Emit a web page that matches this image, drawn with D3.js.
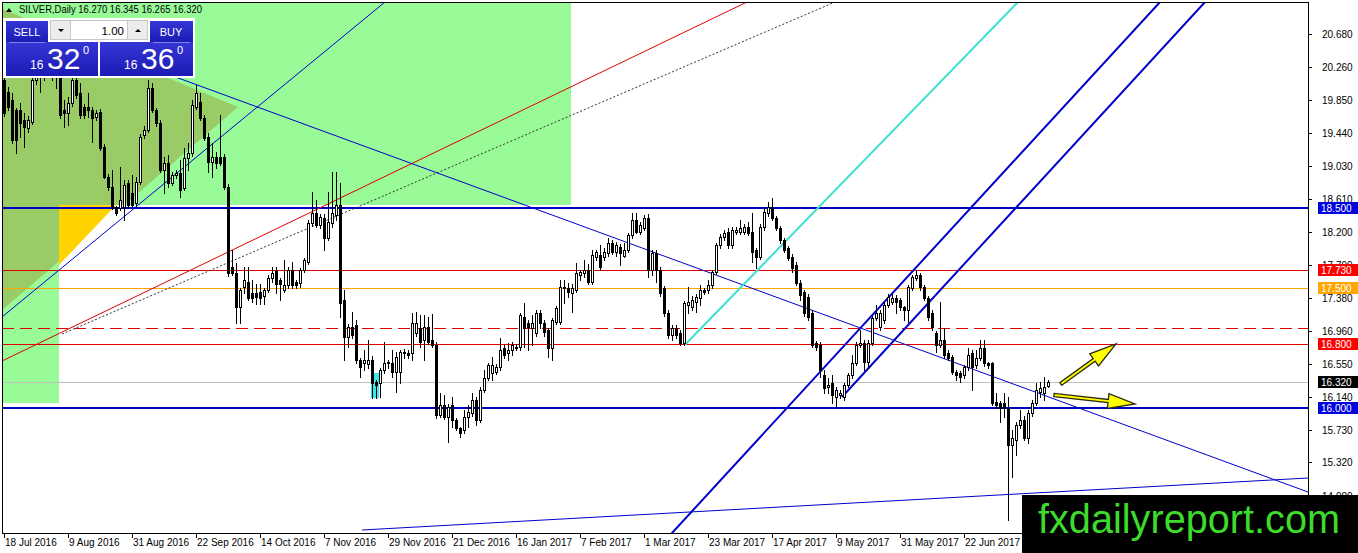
<!DOCTYPE html>
<html><head><meta charset="utf-8">
<script src="https://cdn.jsdelivr.net/npm/d3@7"></script>
<style>
body{margin:0;background:#fff;}
svg{display:block;font-family:"Liberation Sans",Arial,sans-serif;}
</style>
</head><body>
<svg id="c" width="1358" height="553"></svg>
<script>
// ---------------- DATA ----------------
const opens=[20.10,19.95,19.85,19.725,19.725,19.60,19.50,19.575,20.10,20.35,20.20,20.40,20.30,20.20,20.15,19.725,19.69,19.81,20.10,19.94,19.76,19.76,19.725,19.64,19.70,19.26,18.89,18.76,18.51,18.50,18.51,18.81,18.69,18.56,18.825,19.41,19.475,20.00,19.725,19.56,18.975,19.06,18.81,18.91,18.94,18.75,19.125,19.19,19.76,19.825,19.625,19.39,19.075,19.14,19.14,19.14,18.76,17.76,17.69,17.26,17.51,17.575,17.44,17.44,17.45,17.40,17.475,17.625,17.71,17.60,17.475,17.54,17.725,17.575,17.56,17.725,17.825,18.31,18.44,18.29,18.375,18.125,18.31,18.41,18.54,17.35,16.89,17.01,17.04,16.60,16.56,16.55,16.60,16.325,16.31,16.475,16.56,16.56,16.45,16.45,16.70,16.69,16.69,16.94,17.00,16.85,17.01,16.85,16.79,15.91,16.04,15.89,16.04,15.85,15.75,15.725,15.89,15.94,16.10,15.85,16.225,16.375,16.44,16.45,16.51,16.75,16.69,16.725,16.75,16.76,17.14,17.06,17.00,16.94,17.19,17.06,16.975,16.75,17.075,17.075,17.50,17.50,17.44,17.475,17.66,17.69,17.725,17.575,17.89,17.91,17.89,17.94,18.06,17.95,18.01,17.90,17.975,18.16,18.35,18.20,18.25,18.375,17.725,17.94,17.725,17.50,17.19,16.91,17.00,16.94,16.81,17.29,17.26,17.325,17.375,17.475,17.475,17.54,17.70,18.04,18.14,18.20,18.04,18.20,18.20,18.20,18.26,18.20,17.975,17.89,18.26,18.44,18.51,18.375,18.25,18.10,18.00,17.89,17.79,17.56,17.45,17.39,17.19,16.81,16.79,16.41,16.26,16.31,16.14,16.16,16.14,16.29,16.41,16.56,16.79,16.81,16.575,16.81,17.125,17.01,17.10,17.29,17.325,17.375,17.35,17.26,17.225,17.50,17.625,17.66,17.51,17.375,17.19,16.94,16.79,16.85,16.69,16.64,16.45,16.44,16.41,16.51,16.69,16.54,16.625,16.75,16.56,16.56,16.075,16.06,16.06,16.00,15.54,15.60,15.79,15.85,15.625,15.94,16.06,16.20,16.19,16.27];
const highs=[20.15,20.01,19.94,19.75,19.81,19.69,19.65,20.20,20.45,20.45,20.50,20.55,20.45,20.35,20.20,19.85,19.89,20.15,20.15,20.06,19.80,19.94,19.76,19.72,19.74,19.30,18.92,18.975,18.52,19.01,18.85,18.85,18.91,18.89,19.42,19.52,20.10,20.06,19.75,19.60,19.14,19.16,18.95,18.98,19.10,19.25,19.31,19.85,20.04,19.94,19.66,19.44,19.31,19.20,19.66,19.18,18.80,17.975,17.81,17.50,17.76,17.76,17.60,17.55,17.55,17.50,17.66,17.76,17.76,17.62,17.85,17.76,17.825,17.60,17.75,17.88,18.35,18.70,18.60,18.42,18.42,18.70,18.95,18.95,18.81,17.475,17.05,17.20,17.10,16.62,16.72,16.85,16.65,16.35,16.50,16.83,16.60,16.725,16.70,16.725,16.74,16.72,17.19,17.20,17.16,17.16,17.14,17.18,16.82,16.19,16.16,16.05,16.14,15.88,15.76,15.975,16.04,16.19,16.14,16.26,16.475,16.56,16.64,16.55,16.875,16.79,16.81,16.82,16.80,17.19,17.31,17.10,17.16,17.22,17.22,17.10,17.00,17.12,17.28,17.60,17.60,17.56,17.55,17.81,17.73,17.85,17.80,17.975,17.98,18.04,18.00,18.125,18.10,18.08,18.05,18.06,18.19,18.44,18.44,18.32,18.41,18.42,17.98,17.98,17.76,17.52,17.22,17.04,17.04,16.97,17.34,17.51,17.40,17.42,17.54,17.50,17.60,17.725,18.06,18.18,18.22,18.25,18.26,18.26,18.35,18.30,18.325,18.44,18.00,18.30,18.50,18.575,18.625,18.40,18.28,18.12,18.03,17.92,17.825,17.60,17.48,17.42,17.22,16.84,16.82,16.475,16.375,16.41,16.26,16.22,16.31,16.44,16.66,16.82,16.975,16.85,16.85,17.15,17.29,17.22,17.32,17.42,17.44,17.41,17.38,17.28,17.54,17.66,17.725,17.69,17.54,17.40,17.22,16.96,17.325,17.00,16.72,16.66,16.48,16.46,16.54,16.75,16.72,16.725,16.85,16.85,16.58,16.58,16.19,16.09,16.19,16.14,15.725,15.82,15.975,15.90,15.97,16.10,16.31,16.325,16.39,16.345];
const lows=[19.65,19.725,19.31,19.19,19.39,19.26,19.45,19.55,20.05,19.95,20.10,20.25,20.10,20.00,19.62,19.51,19.54,19.78,19.88,19.625,19.62,19.64,19.325,19.60,19.225,18.875,18.72,18.49,18.41,18.475,18.35,18.50,18.51,18.52,18.80,19.38,19.45,19.70,19.52,18.95,18.69,18.76,18.79,18.88,18.64,18.725,18.975,19.15,19.74,19.60,19.35,18.95,18.89,19.00,19.04,18.74,17.65,17.66,17.06,17.06,17.44,17.35,17.33,17.30,17.30,17.30,17.45,17.58,17.44,17.35,17.45,17.50,17.50,17.50,17.51,17.70,17.80,18.28,18.26,18.25,17.975,18.10,18.26,18.35,17.14,16.60,16.76,16.88,16.56,16.39,16.475,16.50,16.12,16.12,16.14,16.44,16.50,16.39,16.20,16.31,16.62,16.62,16.60,16.90,16.76,16.60,16.80,16.76,15.88,15.885,15.86,15.575,15.76,15.72,15.64,15.69,15.76,15.90,15.79,15.82,16.20,16.35,16.35,16.42,16.48,16.63,16.60,16.66,16.72,16.73,16.76,16.72,16.79,16.90,17.00,16.90,16.64,16.60,17.05,17.05,17.31,17.39,17.20,17.45,17.60,17.64,17.55,17.55,17.85,17.725,17.85,17.90,17.92,17.90,17.79,17.89,17.95,18.13,18.19,18.17,18.22,17.64,17.66,17.575,17.40,17.15,16.88,16.85,16.88,16.79,16.79,17.19,17.22,17.20,17.29,17.42,17.44,17.50,17.68,18.00,18.10,18.00,18.00,18.18,18.17,18.17,18.16,17.825,17.75,17.86,18.23,18.40,18.35,18.22,18.06,17.95,17.85,17.70,17.54,17.35,17.15,17.10,16.76,16.73,16.39,16.19,16.19,16.06,16.01,16.12,16.10,16.26,16.38,16.54,16.76,16.475,16.50,16.79,17.10,16.975,17.06,17.26,17.30,17.19,17.23,17.10,17.075,17.48,17.60,17.48,17.35,17.10,16.98,16.70,16.76,16.63,16.60,16.42,16.35,16.33,16.38,16.48,16.225,16.50,16.60,16.53,16.50,16.04,16.00,15.825,15.89,14.60,15.14,15.41,15.75,15.60,15.56,15.90,16.04,16.14,16.10,16.265];
const closes=[19.69,19.76,19.35,19.35,19.56,19.51,19.60,20.10,20.35,20.20,20.40,20.30,20.20,20.15,19.66,19.69,19.81,20.10,19.91,19.66,19.66,19.725,19.625,19.69,19.25,18.89,18.76,18.51,18.44,18.60,18.79,18.54,18.54,18.825,19.39,19.475,20.00,19.725,19.56,18.975,19.06,18.81,18.91,18.94,18.725,19.125,19.19,19.79,19.94,19.625,19.375,19.075,19.14,19.06,19.06,18.76,17.69,17.69,17.26,17.475,17.60,17.375,17.375,17.39,17.375,17.475,17.625,17.69,17.55,17.55,17.54,17.725,17.54,17.54,17.725,17.85,18.31,18.44,18.29,18.39,18.125,18.325,18.44,18.54,17.31,16.89,17.01,16.91,16.60,16.51,16.60,16.60,16.31,16.29,16.475,16.56,16.575,16.45,16.64,16.70,16.69,16.66,17.06,17.06,16.825,17.01,16.825,16.79,15.91,16.04,15.89,16.01,15.85,15.75,15.69,15.89,15.95,16.10,15.85,16.225,16.375,16.54,16.54,16.51,16.725,16.66,16.725,16.79,16.76,17.16,17.00,17.01,17.06,17.19,17.06,16.95,16.75,17.10,17.25,17.51,17.51,17.45,17.50,17.69,17.70,17.725,17.575,17.91,17.95,17.76,17.95,18.06,17.95,18.04,17.94,17.975,18.16,18.35,18.20,18.29,18.375,17.725,17.94,17.725,17.44,17.19,16.91,17.00,16.91,16.81,17.31,17.325,17.35,17.39,17.475,17.45,17.54,17.70,18.04,18.14,18.19,18.04,18.225,18.225,18.25,18.26,18.19,17.95,17.89,18.26,18.45,18.51,18.375,18.25,18.10,17.975,17.875,17.75,17.56,17.41,17.19,17.14,16.79,16.76,16.475,16.25,16.29,16.16,16.225,16.19,16.29,16.41,16.56,16.79,16.81,16.575,16.81,17.125,17.19,17.19,17.29,17.39,17.375,17.325,17.26,17.225,17.51,17.64,17.66,17.51,17.375,17.14,17.01,16.79,16.85,16.66,16.625,16.45,16.41,16.39,16.51,16.66,16.51,16.625,16.75,16.56,16.54,16.06,16.04,16.00,16.00,15.54,15.625,15.79,15.85,15.625,15.94,16.06,16.225,16.25,16.26,16.32];

const dateLabels=["18 Jul 2016","9 Aug 2016","31 Aug 2016","22 Sep 2016","14 Oct 2016","7 Nov 2016","29 Nov 2016","21 Dec 2016","16 Jan 2017","7 Feb 2017","1 Mar 2017","23 Mar 2017","17 Apr 2017","9 May 2017","31 May 2017","22 Jun 2017"];
const dateLabelBars=[0,16,32,48,64,80,96,112,128,144,160,176,192,208,224,240];
const priceTicks=[20.680,20.260,19.850,19.440,19.030,18.610,18.200,17.790,17.380,16.960,16.550,16.140,15.730,15.320,14.900];
const levelPrices=[18.500,17.730,17.500,17.000,16.800,16.320,16.000];
// trend lines: [bar, price] endpoints
const trendLines=[
  [[-0.5,17.1375],[95.25,21.075]],
  [[-0.5,16.5875],[185.75,21.075]],
  [[14.5,16.925],[207.75,21.075]],
  [[40,20.19],[326,14.95]],
  [[89.5,14.475],[326,15.125]],
  [[170.25,16.79],[253.5,21.075]],
  [[160,14.056],[289,21.075]],
  [[209.5,16.1375],[300.25,21.075]]
];
// rectangles: [barFrom, barTo, priceTop, priceBottom]
const greenRects=[[-2,141.75,21.3,18.5375],[-2,13.75,18.5375,16.0625]];
const cyanBox=[91.75,93.75,16.4375,16.125];
const darkTriangle=[[-1,21.0],[58.5,19.7625],[-1,17.2]];
const yellowTriangle=[[13.75,18.5375],[28,18.5375],[13.75,17.7875]];
const arrows=[[[264.2,16.30],[278,16.80]],[[262.5,16.1625],[282.75,16.05]]];
const title="SILVER,Daily  16.270 16.345 16.265 16.320";

// ---------------- DRAW ----------------
const svg=d3.select("#c");
const W=1358,H=553,L=2,T=2,R=1308,B=533;
const x=d3.scaleLinear().domain([0,261]).range([4,1048]);
const y=d3.scaleLinear().domain([18.5,16.0]).range([208,408]);

const defs=svg.append("defs");
defs.append("clipPath").attr("id","plot").append("rect").attr("x",L).attr("y",T).attr("width",R-L).attr("height",B-T);
const cg=defs.append("clipPath").attr("id","green");
greenRects.forEach(r=>cg.append("rect").attr("x",x(r[0])).attr("y",y(r[2])).attr("width",x(r[1])-x(r[0])).attr("height",y(r[3])-y(r[2])));
const grad=defs.append("linearGradient").attr("id","bl").attr("x1",0).attr("y1",0).attr("x2",0).attr("y2",1);
grad.append("stop").attr("offset","0").attr("stop-color","#3636d6");
grad.append("stop").attr("offset","1").attr("stop-color","#1a1ab4");
defs.append("clipPath").attr("id","axclip").append("rect").attr("x",R+1).attr("y",0).attr("width",W-R).attr("height",495);

svg.append("rect").attr("width",W).attr("height",H).attr("fill","#fff");
const plot=svg.append("g").attr("clip-path","url(#plot)");

// green rectangles
plot.selectAll("rect.gr").data(greenRects).join("rect").attr("class","gr")
  .attr("x",r=>x(r[0])).attr("y",r=>y(r[2])).attr("width",r=>x(r[1])-x(r[0])).attr("height",r=>y(r[3])-y(r[2]))
  .attr("fill","#98fb98");
const poly=pts=>pts.map(p=>[x(p[0]),y(p[1])].join(",")).join(" ");
plot.append("g").attr("clip-path","url(#green)").append("polygon").attr("points",poly(darkTriangle)).attr("fill","#99cc66");
plot.append("polygon").attr("points",poly(yellowTriangle)).attr("fill","#ffd200");
plot.append("rect").attr("x",x(cyanBox[0])).attr("y",y(cyanBox[2])).attr("width",x(cyanBox[1])-x(cyanBox[0])).attr("height",y(cyanBox[3])-y(cyanBox[2])).attr("fill","#3ee8e8");

// horizontal levels
const levelStyle=[
  {c:"#0000c0",w:2,bg:"#0000e0"},
  {c:"#e00000",w:1,bg:"#ff0000"},
  {c:"#ffa500",w:1,bg:"#ffa500"},
  {c:"#e00000",w:1,dash:"12,6",bg:null},
  {c:"#e00000",w:1,bg:"#ff0000"},
  {c:"#c0c0c0",w:1,bg:"#000000"},
  {c:"#0000c0",w:2,bg:"#0000e0"}
];
levelPrices.forEach((p,i)=>{
  const s=levelStyle[i];const yy=Math.round(y(p))+(s.w===1?0.5:0);
  plot.append("line").attr("x1",L).attr("x2",R).attr("y1",yy).attr("y2",yy)
    .attr("stroke",s.c).attr("stroke-width",s.w).attr("stroke-dasharray",s.dash||null);
});

// trend lines
const lineStyle=[
  {c:"#0000cd",w:1},{c:"#dd0000",w:1},{c:"#333",w:1,dash:"2,2"},{c:"#0000cd",w:1},
  {c:"#0000cd",w:1},{c:"#40e0d0",w:2},{c:"#0000cd",w:2},{c:"#0000cd",w:2}
];
const lineGen=d3.line().x(d=>x(d[0])).y(d=>y(d[1]));
trendLines.forEach((tl,i)=>{
  const s=lineStyle[i];
  plot.append("path").attr("d",lineGen(tl)).attr("fill","none").attr("stroke",s.c)
    .attr("stroke-width",s.w).attr("stroke-dasharray",s.dash||null);
});

// candles
const cgrp=plot.append("g").attr("shape-rendering","crispEdges");
opens.forEach((o,i)=>{
  const c=closes[i],h=highs[i],l=lows[i];
  const cx=Math.round(x(i));
  cgrp.append("line").attr("x1",cx+0.5).attr("x2",cx+0.5).attr("y1",Math.round(y(h))).attr("y2",Math.round(y(l))+1).attr("stroke","#000");
  const top=Math.round(y(Math.max(o,c))),bot=Math.round(y(Math.min(o,c)));
  if(c<o || bot-top<2){
    cgrp.append("rect").attr("x",cx-1).attr("y",top).attr("width",3).attr("height",Math.max(1,bot-top+1)).attr("fill","#000");
  }else{
    cgrp.append("rect").attr("x",cx-0.5).attr("y",top+0.5).attr("width",2).attr("height",bot-top).attr("fill","#fff").attr("stroke","#000");
  }
});

// arrows
arrows.forEach(a=>{
  const x1=x(a[0][0]),y1=y(a[0][1]),x2=x(a[1][0]),y2=y(a[1][1]);
  const dx=x2-x1,dy=y2-y1,len=Math.hypot(dx,dy),ux=dx/len,uy=dy/len,nx=-uy,ny=ux;
  const hl=27,hw=7.5,sw=1.6;
  const bx=x2-ux*hl,by=y2-uy*hl;
  const pts=[[x1+nx*sw,y1+ny*sw],[bx+nx*sw,by+ny*sw],[bx+nx*hw,by+ny*hw],[x2,y2],[bx-nx*hw,by-ny*hw],[bx-nx*sw,by-ny*sw],[x1-nx*sw,y1-ny*sw]];
  plot.append("polygon").attr("points",pts.map(p=>p.join(",")).join(" ")).attr("fill","#ffff00").attr("stroke","#2a2a10").attr("stroke-width",1.3);
});

// frame
svg.append("rect").attr("x",L+0.5).attr("y",T+0.5).attr("width",R-L).attr("height",B-T).attr("fill","none").attr("stroke","#000");

// right price axis
const ax=svg.append("g").attr("font-size","10px").attr("fill","#000");
const tickG=ax.append("g").attr("clip-path","url(#axclip)");
priceTicks.forEach(p=>{
  const yy=Math.round(y(p))+0.5;
  tickG.append("line").attr("x1",R).attr("x2",R+4).attr("y1",yy).attr("y2",yy).attr("stroke","#000");
  tickG.append("text").attr("x",R+14).attr("y",yy+3.5).text(p.toFixed(3));
});
levelPrices.forEach((p,i)=>{
  const s=levelStyle[i]; if(!s.bg) return;
  const yy=Math.round(y(p));
  ax.append("rect").attr("x",R+10).attr("y",yy-6).attr("width",40).attr("height",12).attr("fill",s.bg);
  ax.append("text").attr("x",R+13).attr("y",yy+4).attr("fill","#fff").text(p.toFixed(3));
});

// bottom time axis
dateLabels.forEach((t,i)=>{
  const xx=Math.round(x(dateLabelBars[i]))+0.5;
  ax.append("line").attr("x1",xx).attr("x2",xx).attr("y1",B).attr("y2",B+5).attr("stroke","#000");
  ax.append("text").attr("x",xx+0.5).attr("y",546).text(t);
});

// watermark
svg.append("rect").attr("x",1022).attr("y",495).attr("width",336).attr("height",58).attr("fill","#000");
svg.append("text").attr("x",1038).attr("y",533).attr("font-size","40px").attr("fill","#3ddc2c")
  .attr("textLength",302).attr("lengthAdjust","spacingAndGlyphs").text("fxdailyreport.com");

// title
svg.append("path").attr("d","M6,12 L9,8 L12,12 Z").attr("fill","#000");
svg.append("text").attr("x",19).attr("y",13).attr("font-size","10px").attr("fill","#000")
  .attr("textLength",183).attr("lengthAdjust","spacingAndGlyphs").text(title);

// one-click trading panel
const pn=svg.append("g");
pn.append("rect").attr("x",3).attr("y",18).attr("width",192).attr("height",60).attr("fill","#fff");
pn.append("rect").attr("x",6).attr("y",21).attr("width",42).attr("height",22).attr("fill","url(#bl)");
pn.append("rect").attr("x",150).attr("y",21).attr("width",43).attr("height",22).attr("fill","url(#bl)");
pn.append("rect").attr("x",6).attr("y",42).attr("width",92).attr("height",34).attr("fill","url(#bl)");
pn.append("rect").attr("x",100).attr("y",42).attr("width",93).attr("height",34).attr("fill","url(#bl)");
pn.append("line").attr("x1",9).attr("x2",45).attr("y1",42.5).attr("y2",42.5).attr("stroke","#8080e8");
pn.append("line").attr("x1",153).attr("x2",190).attr("y1",42.5).attr("y2",42.5).attr("stroke","#8080e8");
pn.append("rect").attr("x",50.5).attr("y",20.5).attr("width",20).attr("height",19).attr("fill","#ececec").attr("stroke","#c8c8c8");
pn.append("rect").attr("x",70.5).attr("y",20.5).attr("width",57).attr("height",19).attr("fill","#fff").attr("stroke","#c8c8c8");
pn.append("rect").attr("x",127.5).attr("y",20.5).attr("width",20).attr("height",19).attr("fill","#ececec").attr("stroke","#c8c8c8");
pn.append("path").attr("d","M58,29 L64,29 L61,32 Z").attr("fill","#000");
pn.append("path").attr("d","M135,32 L141,32 L138,29 Z").attr("fill","#000");
pn.append("text").attr("x",124).attr("y",35).attr("text-anchor","end").attr("font-size","11.5px").attr("fill","#000").text("1.00");
pn.append("text").attr("x",27).attr("y",36).attr("text-anchor","middle").attr("font-size","11px").attr("fill","#fff").text("SELL");
pn.append("text").attr("x",171).attr("y",36).attr("text-anchor","middle").attr("font-size","11px").attr("fill","#fff").text("BUY");
const priceTxt=(x0,big)=>{
  pn.append("text").attr("x",x0).attr("y",69).attr("font-size","12px").attr("fill","#fff").text("16");
  pn.append("text").attr("x",x0+17).attr("y",69).attr("font-size","30px").attr("fill","#fff").text(big);
  pn.append("text").attr("x",x0+53).attr("y",54).attr("font-size","11px").attr("fill","#fff").text("0");
};
priceTxt(30,"32");
priceTxt(124,"36");
</script>
</body></html>
